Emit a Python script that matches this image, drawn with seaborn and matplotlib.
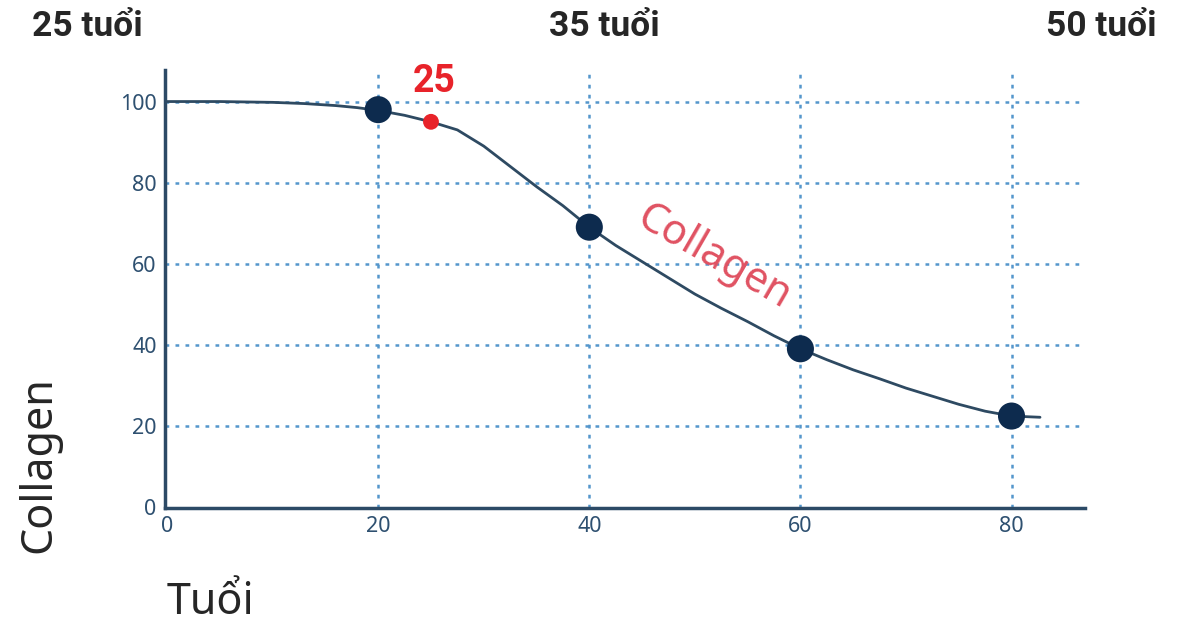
import matplotlib
matplotlib.use('Agg')
import matplotlib.pyplot as plt
import seaborn as sns
import pandas as pd

# Data
curve_age = [0, 5, 10, 13, 16, 18, 20, 22.5, 25, 27.5, 30, 32.5, 35, 37.5, 40,
             42.5, 45, 47.5, 50, 52.5, 55, 57.5, 60, 62.5, 65, 67.5, 70, 72.5,
             75, 77.5, 80, 82.7]
curve_collagen = [100, 100, 99.8, 99.5, 99, 98.5, 97.8, 96.6, 95, 93, 89, 84,
                  79, 74.3, 69, 64.5, 60.5, 56.5, 52.5, 49, 45.7, 42.2, 39, 36.3,
                  33.8, 31.6, 29.3, 27.3, 25.3, 23.6, 22.4, 22.1]
point_age = [20, 40, 60, 80]
point_collagen = [98, 69, 39, 22.4]
marker_age = [25]
marker_collagen = [95]
x_ticks = [0, 20, 40, 60, 80]
y_ticks = [0, 20, 40, 60, 80, 100]
top_labels = ['25 tuổi', '35 tuổi', '50 tuổi']

curve_df = pd.DataFrame({'age': curve_age, 'collagen': curve_collagen})
point_df = pd.DataFrame({'age': point_age, 'collagen': point_collagen})
marker_df = pd.DataFrame({'age': marker_age, 'collagen': marker_collagen})

sns.set_style('white')
plt.rcParams['font.family'] = ['Noto Sans', 'DejaVu Sans']

fig = plt.figure(figsize=(12, 6.28), dpi=100)
ax = fig.add_axes([0.1375, 0.191, 0.767, 0.697])

grid_col = '#5496cc'
for x in x_ticks[1:]:
    ax.axvline(x, color=grid_col, lw=1.8, ls=(0, (1.5, 2.5)), zorder=0)
for y in y_ticks[1:]:
    ax.axhline(y, color=grid_col, lw=1.8, ls=(0, (1.5, 2.5)), zorder=0)

sns.lineplot(data=curve_df, x='age', y='collagen', ax=ax, color='#2e4a62', lw=2, zorder=2)
sns.scatterplot(data=point_df, x='age', y='collagen', ax=ax, color='#0d2b4e', s=380,
                edgecolor='none', zorder=3)
sns.scatterplot(data=marker_df, x='age', y='collagen', ax=ax, color='#e8232a', s=130,
                edgecolor='none', zorder=3)

ax.set_xlim(-0.2, 87)
ax.set_ylim(-0.3, 107.7)
ax.set_xticks(x_ticks)
ax.set_yticks(y_ticks)
ax.tick_params(length=0, labelsize=15.5, labelcolor='#2e5070', pad=6)
sns.despine(ax=ax)
for side in ['left', 'bottom']:
    ax.spines[side].set_color('#2c4a66')
    ax.spines[side].set_linewidth(2.5)
ax.set_xlabel('')
ax.set_ylabel('')

ax.text(25.3, 100.5, '25', color='#e8232a', fontsize=27, fontweight='bold',
        ha='center', va='bottom', family=['Roboto', 'DejaVu Sans'])
ax.text(51.8, 61.5, 'Collagen', color='#e05262', fontsize=30, rotation=-30,
        ha='center', va='center', rotation_mode='anchor')

fig.text(0.073, 0.958, top_labels[0], fontsize=25.5, fontweight='bold', ha='center',
         va='center', family=['Roboto', 'DejaVu Sans'])
fig.text(0.504, 0.958, top_labels[1], fontsize=25.5, fontweight='bold', ha='center',
         va='center', family=['Roboto', 'DejaVu Sans'])
fig.text(0.918, 0.958, top_labels[2], fontsize=25.5, fontweight='bold', ha='center',
         va='center', family=['Roboto', 'DejaVu Sans'])
fig.text(0.033, 0.26, 'Collagen', fontsize=31, rotation=90, ha='center', va='center')
fig.text(0.175, 0.04, 'Tuổi', fontsize=31, ha='center', va='center')

fig.savefig('out.png', dpi=100)
